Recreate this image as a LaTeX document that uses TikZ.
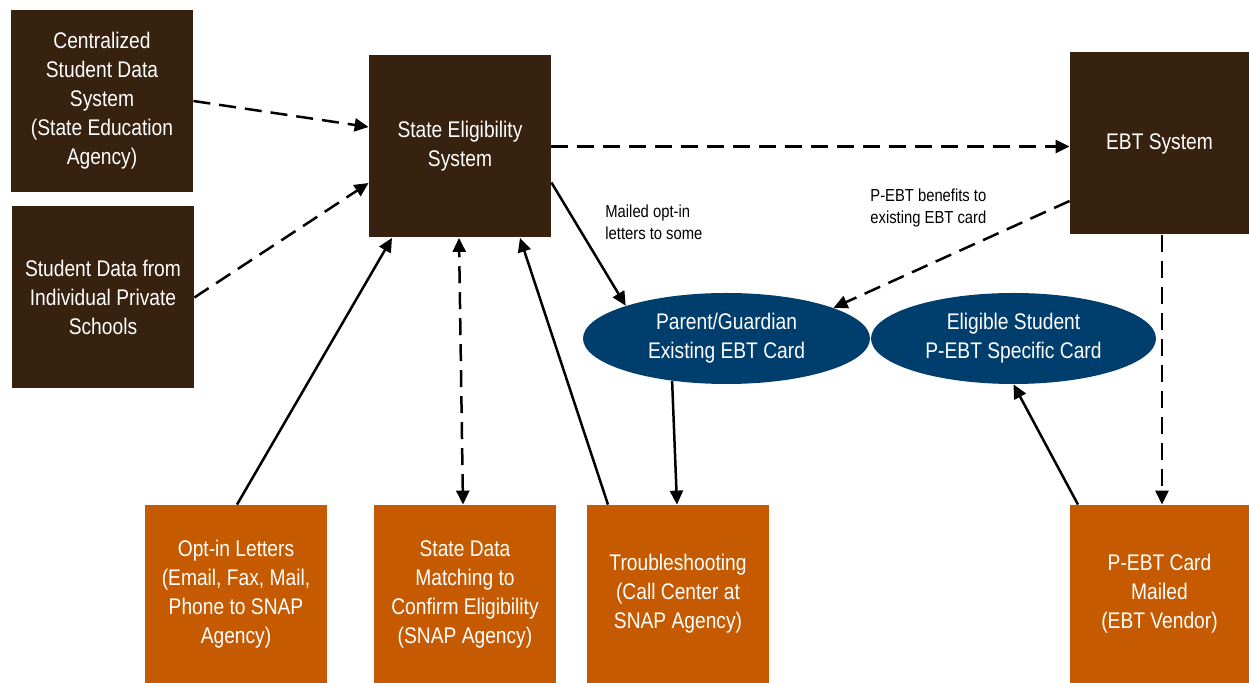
\documentclass[tikz,border=0pt]{standalone}
\usepackage{fontspec}
\setmainfont{Liberation Sans}[FakeStretch=0.85]
\usepackage{tikz}
\usetikzlibrary{positioning,arrows.meta,shapes.geometric}
\definecolor{darkbrown}{RGB}{55,34,16}
\definecolor{burntorange}{RGB}{197,90,0}
\definecolor{navyblue}{RGB}{0,62,110}

\begin{document}
\begin{tikzpicture}[x=0.5pt,y=-0.5pt,
	srcbox/.style={fill=darkbrown,text=white,minimum width=91pt,minimum height=91pt,inner sep=2pt,align=center,font=\fontsize{11.3}{14.5}\selectfont},
	agencybox/.style={fill=burntorange,text=white,minimum width=91pt,minimum height=89pt,inner sep=2pt,align=center,font=\fontsize{11.3}{14.5}\selectfont},
	cardoval/.style={ellipse,fill=navyblue,text=white,inner sep=0pt,minimum height=45.5pt,align=center,font=\fontsize{11.3}{14.5}\selectfont},
	flow/.style={line width=1.25pt,-{Triangle[length=7pt,width=6.5pt]}},
	dataflow/.style={flow,dash pattern=on 8.5pt off 4.5pt},
	note/.style={align=left,anchor=west,inner sep=0pt,font=\fontsize{8.7}{11}\selectfont}]

	\useasboundingbox (0,0) rectangle (1249,683);

	% sources and systems
	\node[srcbox] (cent) at (102,101)
	{Centralized\\Student Data\\System\\(State Education\\Agency)};
	\node[srcbox] (priv) at (103,297.5)
	{Student Data from\\Individual Private\\Schools};
	\node[srcbox] (sel) at (460,146.5)
	{State Eligibility\\System};
	\node[srcbox,minimum width=89.5pt] (ebt) at (1159.5,143.5)
	{EBT System};

	% cards
	\node[cardoval,minimum width=143.5pt] (pgc) at (726.5,338.5)
	{Parent/Guardian\\Existing EBT Card};
	\node[cardoval,minimum width=142.5pt] (esc) at (1013.5,338.5)
	{Eligible Student\\P-EBT Specific Card};

	% agencies
	\node[agencybox] (optin) at (236,594)
	{Opt-in Letters\\(Email, Fax, Mail,\\Phone to SNAP\\Agency)};
	\node[agencybox] (match) at (465,594)
	{State Data\\Matching  to\\Confirm Eligibility\\(SNAP Agency)};
	\node[agencybox] (trbl) at (678,594)
	{Troubleshooting\\(Call Center at\\SNAP Agency)};
	\node[agencybox,minimum width=89.5pt] (card) at (1159.5,594)
	{P-EBT Card\\Mailed\\(EBT Vendor)};

	% data feeds
	\draw[dataflow] (cent.east) -- ([yshift=9.75pt]sel.west);
	\draw[dataflow] (priv.east) -- ([yshift=-18.25pt]sel.west);
	\draw[dataflow] (sel.east) -- (ebt.west |- sel.east);
	\draw[dataflow,{Triangle[length=7pt,width=6.5pt]}-{Triangle[length=7pt,width=6.5pt]}]
	([xshift=-1pt]match.north) -- ([xshift=-0.5pt]sel.south);

	% benefits
	\draw[flow] ([yshift=-18pt]sel.east) -- (pgc.162);
	\node[note] (mailnote) at (605,222) {Mailed opt-in\\letters to some};
	\draw[dataflow] ([yshift=-28.75pt]ebt.west) -- (pgc.16);
	\node[note] (benenote) at (870,208) {P-EBT benefits to\\existing EBT card};
	\draw[dataflow] ([xshift=1.25pt]ebt.south) -- ([xshift=1.25pt]card.north);
	\draw[flow] ([xshift=-40.75pt]card.north) -- (esc.south);

	% back to the state
	\draw[flow] (pgc.218) -- ([xshift=-0.5pt]trbl.north);
	\draw[flow] ([xshift=-35pt]trbl.north) -- ([xshift=30pt]sel.south);
	\draw[flow] ([xshift=0.5pt]optin.north) -- ([xshift=-34pt]sel.south);

\end{tikzpicture}
\end{document}
